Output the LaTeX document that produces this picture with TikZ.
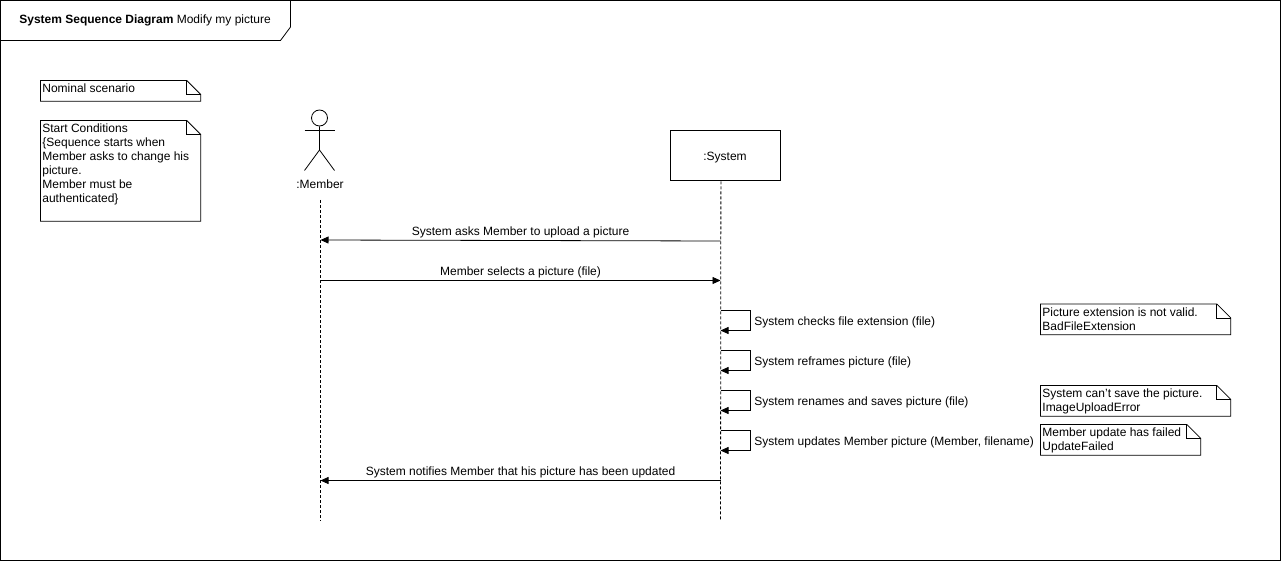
\documentclass[tikz,border=0pt]{standalone}
\usepackage{fontspec}
\setmainfont{Liberation Sans}
\usetikzlibrary{arrows.meta}

\tikzset{
  lifeline/.style={dash pattern=on 3pt off 2pt, line width=0.8pt},
  msg/.style={-{Triangle[length=8pt,width=7pt]}, line width=0.8pt},
  msglabel/.style={inner sep=0pt, font=\fontsize{12}{14}\selectfont},
  notebox/.style={anchor=north west, inner sep=0pt, align=left, font=\fontsize{12}{14}\selectfont},
  sysbox/.style={draw, line width=0.8pt, anchor=north west, minimum width=110pt, minimum height=50pt, inner sep=0pt},
}

\begin{document}
\begin{tikzpicture}[x=1pt,y=-1pt,line width=0.8pt]
  \useasboundingbox (0,0) rectangle (1281,561);

  % Frame and its tab
  \draw (0.5,0.5) rectangle (1280.5,560.5);
  \draw (0.5,40.5) -- (280.5,40.5) -- (290.5,27) -- (290.5,0.5);
  \node[msglabel, anchor=west] (title) at (19,20.5) {\textbf{System Sequence Diagram} Modify my picture};

  % Notes on the left
  \node[notebox, minimum width=159.5pt, minimum height=20pt] (nominal) at (40.5,80.5) {};
  \node[msglabel, anchor=north west] (nominaltext) at (42,83) {Nominal scenario};
  \node[notebox, minimum width=159.5pt, minimum height=100pt] (start) at (40.5,120.5) {};
  \node[msglabel, anchor=north west, align=left] (starttext) at (42,123) {Start Conditions\\\{Sequence starts when\\Member asks to change his\\picture.\\Member must be\\authenticated\}};

  % Notes on the right
  \node[notebox, minimum width=189.5pt, minimum height=30pt] (badext) at (1040.5,304) {};
  \node[msglabel, anchor=north west, align=left] (badexttext) at (1042,307) {Picture extension is not valid.\\BadFileExtension};
  \node[notebox, minimum width=189.5pt, minimum height=30pt] (saveerr) at (1040.5,385.5) {};
  \node[msglabel, anchor=north west, align=left] (saveerrtext) at (1042,388.5) {System can't save the picture.\\ImageUploadError};
  \node[notebox, minimum width=159.5pt, minimum height=30pt] (updfail) at (1040.5,424.5) {};
  \node[msglabel, anchor=north west, align=left] (updfailtext) at (1042,427.5) {Member update has failed\\UpdateFailed};

  \foreach \n in {nominal,start,badext,saveerr,updfail}{
    \draw (\n.north west) -- ([xshift=-14pt]\n.north east) -- ([yshift=-14pt]\n.north east)
      -- (\n.south east) -- (\n.south west) -- cycle;
    \draw ([xshift=-14pt]\n.north east) -- ([xshift=-14pt,yshift=-14pt]\n.north east) -- ([yshift=-14pt]\n.north east);
  }

  % Member (actor)
  \node[draw, circle, minimum size=16pt, inner sep=0pt] (head) at (319.5,118) {};
  \coordinate (hip) at (319.5,150);
  \coordinate (armL) at (304.5,130.5);
  \coordinate (armR) at (334.5,130.5);
  \coordinate (legL) at (304.5,170.5);
  \coordinate (legR) at (334.5,170.5);
  \draw (head) -- (hip) -- (legL);
  \draw (hip) -- (legR);
  \draw (armL) -- (armR);
  \node[msglabel] (member) at (320,184.5) {:Member};

  % System
  \node[sysbox] (system) at (670,130.5) {};
  \node[msglabel] (systemlabel) at (725,157.5) {:System};

  % Lifelines
  \coordinate (membertop) at (320.5,200);
  \coordinate (memberend) at (320.5,521);
  \coordinate (systemend) at (720.5,521);
  \draw[lifeline] (membertop) -- (memberend);
  \draw[lifeline] ([xshift=-4.5pt]system.south) -- (systemend);

  % Messages between Member and System
  \coordinate (m1s) at (720.5,241);
  \coordinate (m1m) at (320.5,240);
  \coordinate (m2m) at (320.5,280.5);
  \coordinate (m2s) at (720.5,280.5);
  \coordinate (m3s) at (720.5,480.5);
  \coordinate (m3m) at (320.5,480.5);
  \draw[msg] (m1s) -- (m1m);
  \draw[msg] (m2m) -- (m2s);
  \draw[msg] (m3s) -- (m3m);
  \node[msglabel] (m1label) at (520.5,232) {System asks Member to upload a picture};
  \node[msglabel] (m2label) at (520.5,272) {Member selects a picture (file)};
  \node[msglabel] (m3label) at (520.5,472) {System notifies Member that his picture has been updated};

  % Self messages of System
  \foreach \name/\y/\txt in {checks/310.5/System checks file extension (file),
      reframes/350.5/System reframes picture (file),
      saves/390.5/System renames and saves picture (file),
      updates/430.5/{System updates Member picture (Member, filename)}}{
    \coordinate (\name a) at (720.5,\y);
    \coordinate (\name b) at (720.5,\y+20);
    \draw[msg] (\name a) -- ++(30,0) |- (\name b);
    \node[msglabel, anchor=west] (\name label) at (754,\y+11.5) {\txt};
  }
\end{tikzpicture}
\end{document}
